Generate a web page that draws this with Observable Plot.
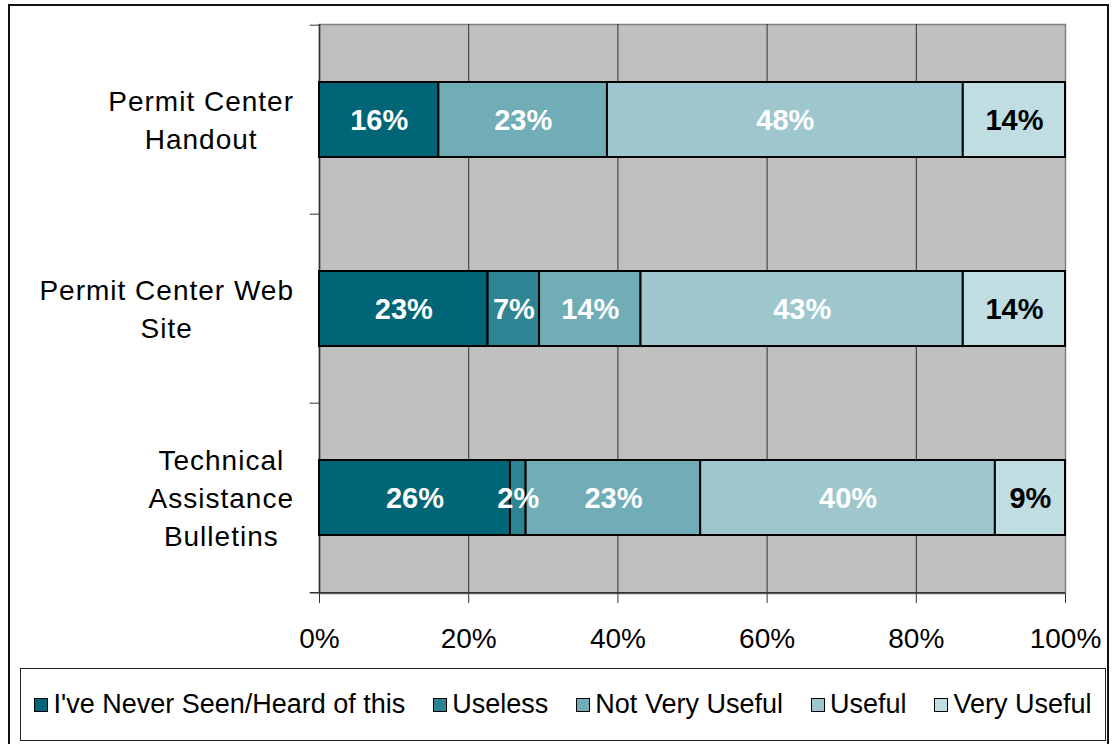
<!DOCTYPE html>
<html><head><meta charset="utf-8">
<script src="https://cdn.jsdelivr.net/npm/d3@7"></script>
<script src="https://cdn.jsdelivr.net/npm/@observablehq/plot@0.6"></script>
<style>
body{margin:0;background:#fff;font-family:"Liberation Sans",Arial,sans-serif;}
#wrap{position:relative;width:1113px;height:744px;overflow:hidden;}
#border{position:absolute;left:8px;top:4px;width:1101px;height:760px;border:2px solid #111;box-sizing:border-box;}
#chart{position:absolute;left:0;top:0;}
#legend{position:absolute;left:20px;top:668px;width:1086px;height:73px;border:1.5px solid #222;box-sizing:border-box;display:flex;align-items:center;justify-content:center;font-size:27px;color:#000;background:#fff;}
.item{display:flex;align-items:center;margin:0 14px;white-space:nowrap;}
.sw{width:12px;height:12px;border:1.5px solid #000;margin-right:5px;flex:none;}
</style></head>
<body>
<div id="wrap"><div id="border"></div><div id="chart"></div><div id="legend"></div></div>
<script>
const categories = ["Permit Center Handout", "Permit Center Web Site", "Technical Assistance Bulletins"];
const categoryLabels = ["Permit Center\nHandout", "Permit Center Web\nSite", "Technical\nAssistance\nBulletins"];
const responses = ["I've Never Seen/Heard of this", "Useless", "Not Very Useful", "Useful", "Very Useful"];
const neverSeen     = [16.0, 22.6, 25.6];
const useless       = [0.0,  6.9,  2.1];
const notVeryUseful = [22.6, 13.6, 23.4];
const useful        = [47.7, 43.2, 39.5];
const veryUseful    = [13.7, 13.7, 9.4];
const xTicks = [0, 20, 40, 60, 80, 100];
const colors = ["#006677", "#2E8493", "#70ADB7", "#9DC7CD", "#C0DDE1"];

const series = [neverSeen, useless, notVeryUseful, useful, veryUseful];
const rows = [];
categories.forEach((c, i) => {
  responses.forEach((r, j) => {
    rows.push({category: c, response: r, value: series[j][i]});
  });
});
const shown = rows.filter(d => d.value > 0);
const fmt = d => Math.round(d.value) + "%";
const dark = "Very Useful";

const lastCat = [categories[categories.length - 1]];
const plot = Plot.plot({
  width: 1113,
  height: 660,
  marginLeft: 319,
  marginRight: 48,
  marginTop: 24,
  marginBottom: 67,
  style: {fontFamily: "'Liberation Sans', Arial, sans-serif", background: "transparent", color: "#000"},
  x: {domain: [0, 100]},
  y: {type: "band", domain: categories, padding: 0},
  color: {domain: responses, range: colors},
  marks: [
    Plot.frame({fill: "#C0C0C0", stroke: "#808080", strokeWidth: 1.5}),
    Plot.gridX({ticks: [20, 40, 60, 80], stroke: "#000", strokeOpacity: 0.75, strokeWidth: 1}),
    Plot.ruleX([0], {stroke: "#333", strokeWidth: 1.5}),
    Plot.ruleY(categories, {y: d => d, dy: -94.8, x1: -1.25, x2: 0, stroke: "#333", strokeWidth: 1}),
    Plot.ruleY(lastCat, {y: d => d, dy: 94.8, x1: -1.25, x2: 100, stroke: "#333", strokeWidth: 1.5}),
    Plot.barX(shown, Plot.stackX({x: "value", y: "category", fill: "response", insetTop: 57, insetBottom: 57, stroke: "#000", strokeWidth: 2})),
    Plot.text(shown, Plot.stackX({x: "value", y: "category", z: "response", text: d => d.response === dark ? "" : fmt(d), fill: "white", fontWeight: "bold", fontSize: 29, dy: 1})),
    Plot.text(shown, Plot.stackX({x: "value", y: "category", z: "response", text: d => d.response === dark ? fmt(d) : "", fill: "black", fontWeight: "bold", fontSize: 29, dy: 1})),
    Plot.axisX({ticks: xTicks, tickFormat: d => d + "%", tickSize: 10, tickPadding: 25, fontSize: 28, stroke: "#333", label: null}),
    Plot.axisY({tickSize: 0, tickPadding: 110, tickFormat: d => categoryLabels[categories.indexOf(d)], textAnchor: "middle", fontSize: 28, lineHeight: 1.36, dy: -2, label: null})
  ]
});
document.getElementById("chart").appendChild(plot);

// right-align each multi-line label block at a common edge while keeping lines centered
plot.querySelectorAll("[aria-label='y-axis tick label'] text").forEach(t => t.style.letterSpacing = "1px");
const svgRect = plot.getBoundingClientRect();
const rightEdge = 294;
plot.querySelectorAll("[aria-label='y-axis tick label'] text").forEach(t => {
  const r = t.getBoundingClientRect();
  const shift = rightEdge - (r.right - svgRect.left);
  const tspans = t.querySelectorAll("tspan");
  if (tspans.length) {
    tspans.forEach(s => s.setAttribute("x", (+s.getAttribute("x") || 0) + shift));
  } else {
    t.setAttribute("x", (+t.getAttribute("x") || 0) + shift);
  }
});

const legend = document.getElementById("legend");
responses.forEach((r, i) => {
  const item = document.createElement("div");
  item.className = "item";
  const sw = document.createElement("span");
  sw.className = "sw";
  sw.style.background = colors[i];
  const lab = document.createElement("span");
  lab.textContent = r;
  item.appendChild(sw);
  item.appendChild(lab);
  legend.appendChild(item);
});
</script>
</body></html>
